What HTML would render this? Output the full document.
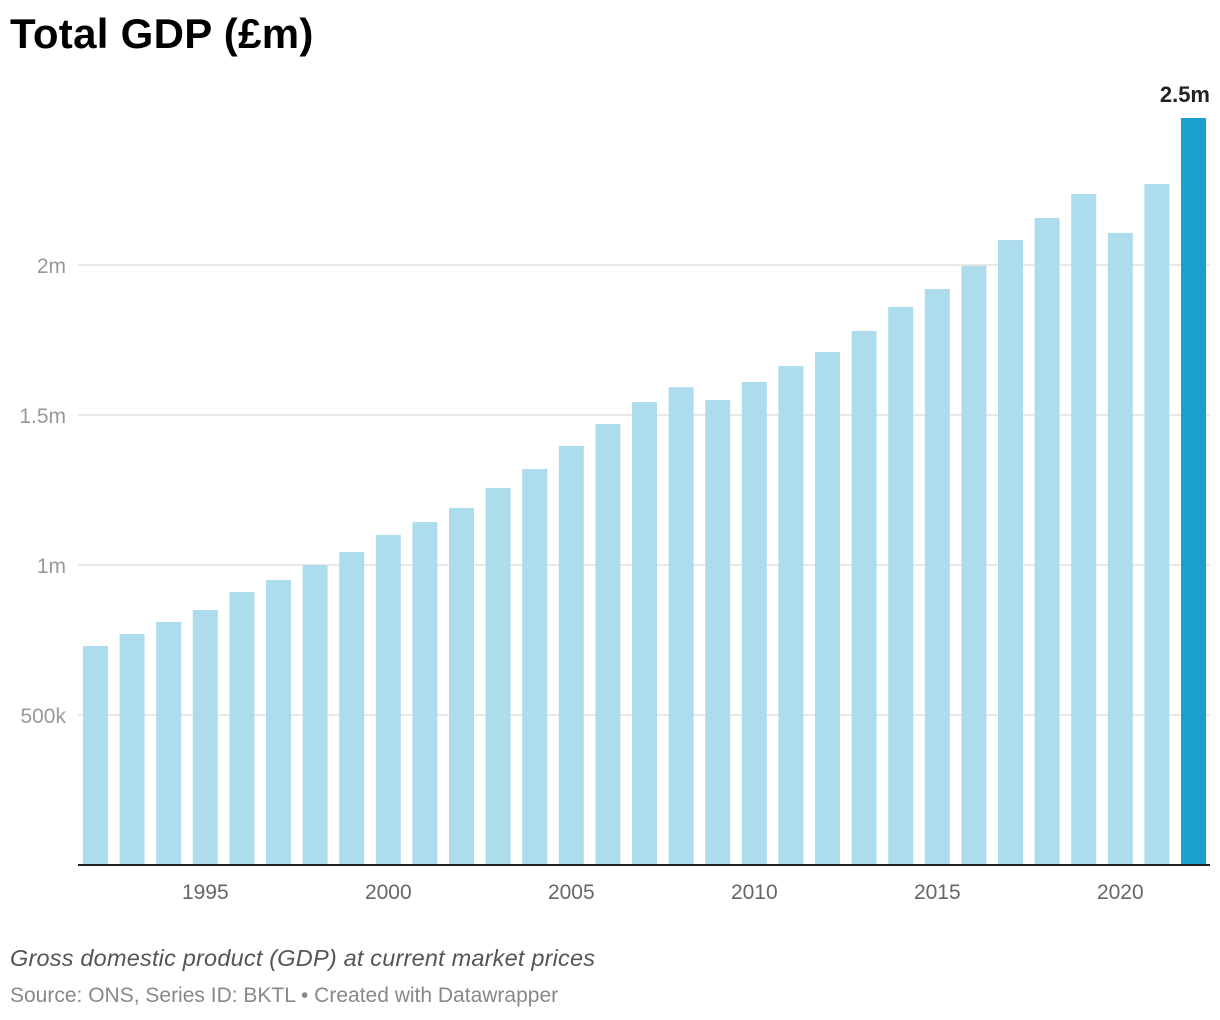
<!DOCTYPE html>
<html><head><meta charset="utf-8"><style>
body{margin:0;background:#fff;font-family:"Liberation Sans",sans-serif;}
#wrap{position:relative;width:1220px;height:1020px;overflow:hidden;}
h1{position:absolute;left:10px;top:10px;margin:0;font-size:42px;font-weight:bold;color:#000;letter-spacing:0.3px;}
.note{position:absolute;left:10px;top:945px;font-size:23.5px;font-style:italic;color:#555;letter-spacing:0.2px;}
.src{position:absolute;left:10px;top:984px;font-size:21px;color:#888;}
</style></head><body>
<div id="wrap">
<h1>Total GDP (£m)</h1>
<svg id="chart" width="1220" height="1020" style="position:absolute;left:0;top:0"></svg>
<div class="note">Gross domestic product (GDP) at current market prices</div>
<div class="src">Source: ONS, Series ID: BKTL • Created with Datawrapper</div>
</div>
<script>
const years=[1992,1993,1994,1995,1996,1997,1998,1999,2000,2001,2002,2003,2004,2005,2006,2007,2008,2009,2010,2011,2012,2013,2014,2015,2016,2017,2018,2019,2020,2021,2022];
const gdp=[0.73,0.77,0.81,0.85,0.91,0.95,1.0,1.043,1.10,1.143,1.19,1.257,1.32,1.397,1.47,1.543,1.593,1.55,1.61,1.663,1.71,1.78,1.86,1.92,1.997,2.083,2.157,2.237,2.107,2.27,2.49];
const yTicks=[0.5,1,1.5,2];
const yTickLabels=["500k","1m","1.5m","2m"];
const xTicks=[1995,2000,2005,2010,2015,2020];
const NS="http://www.w3.org/2000/svg";
const svg=document.getElementById('chart');
const base=865, pxPerM=300, x0=83, step=36.6, bw=25;
const y=v=>base-v*pxPerM;
const x=yr=>x0+(yr-years[0])*step;
function mk(t,a){const e=document.createElementNS(NS,t);for(const k in a)e.setAttribute(k,a[k]);svg.appendChild(e);return e;}
yTicks.forEach((v,i)=>{
 const g=mk('line',{x1:78,x2:1210,y1:y(v),y2:y(v),stroke:'#e0e0e0','stroke-width':1.5});
 
 
 const t=mk('text',{x:66,y:y(v)+8,'text-anchor':'end','font-size':21,fill:'#999','font-family':'Liberation Sans, sans-serif'});
 t.textContent=yTickLabels[i];
 
 
});
years.forEach((yr,i)=>{
 const last=i===years.length-1;
 const r=mk('rect',{x:x(yr),y:y(gdp[i]),width:bw,height:gdp[i]*pxPerM,fill:last?'#18a1cd':'#addcec'});
 
 
 if(last){
  const t=mk('text',{x:x(yr)+bw+4,y:y(gdp[i])-16,'text-anchor':'end','font-size':22,'font-weight':'bold',fill:'#222','font-family':'Liberation Sans, sans-serif'});
  t.textContent=gdp[i].toFixed(1)+'m';
  
  
 }
});
const ax=mk('line',{x1:78,x2:1210,y1:base,y2:base,stroke:'#222','stroke-width':2});


xTicks.forEach(yr=>{
 const t=mk('text',{x:x(yr)+bw/2,y:899,'text-anchor':'middle','font-size':21,fill:'#666','font-family':'Liberation Sans, sans-serif'});
 t.textContent=yr;
 
 
});
</script>
</body></html>
